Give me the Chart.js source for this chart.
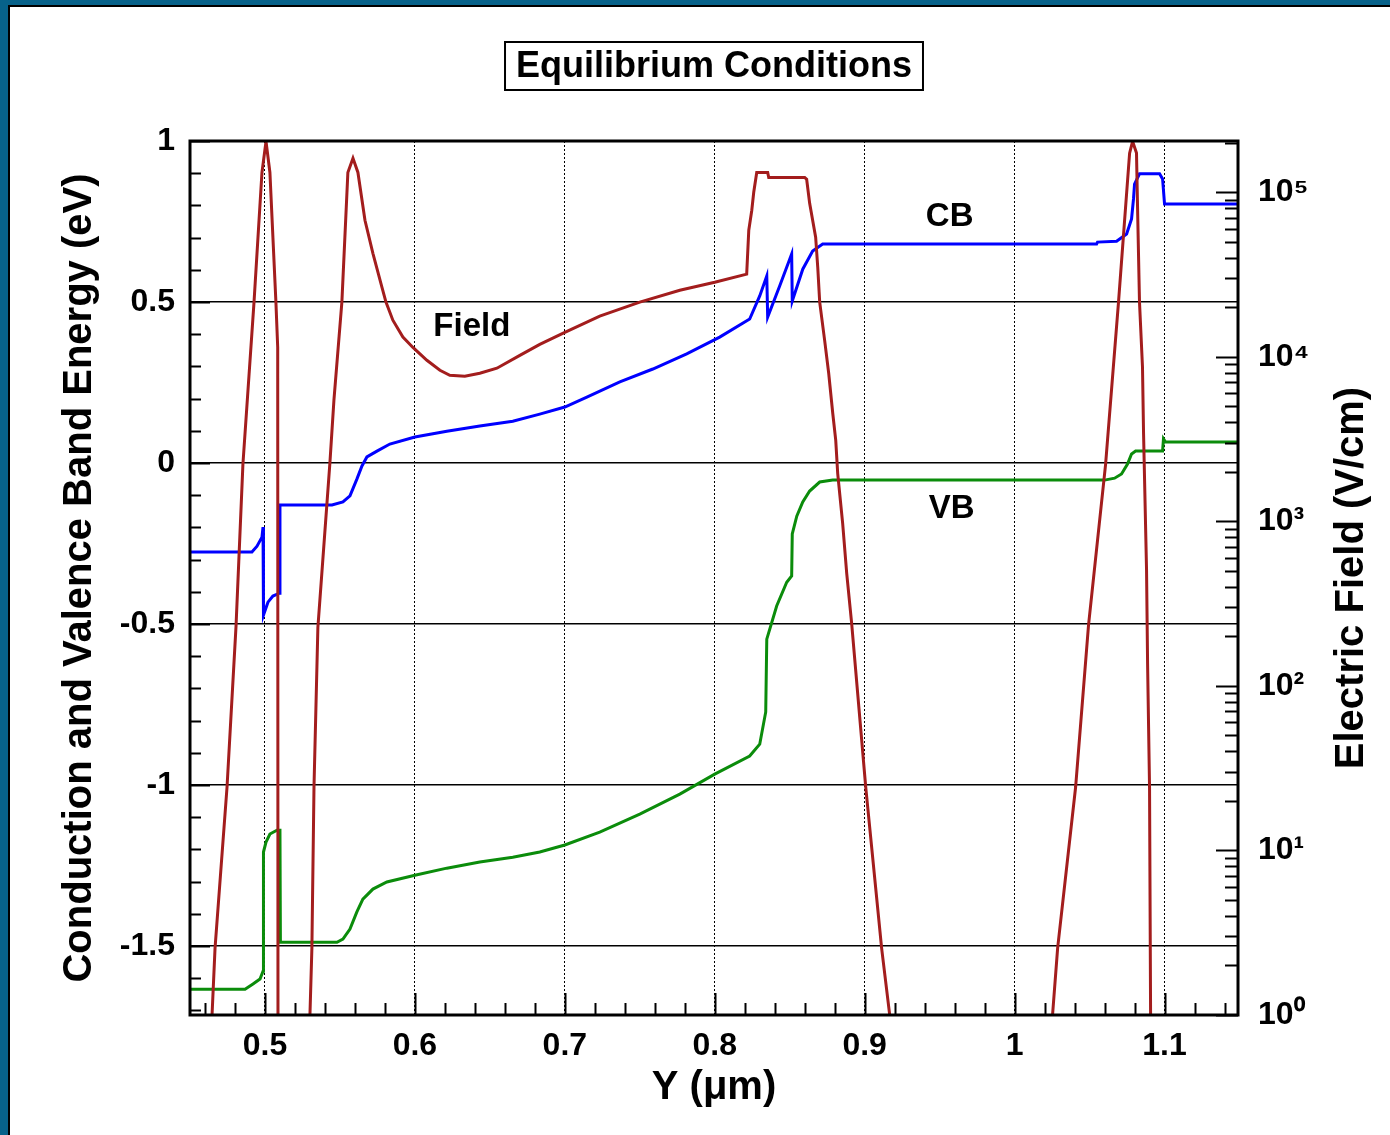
<!DOCTYPE html>
<html>
<head>
<meta charset="utf-8">
<title>Equilibrium Conditions</title>
<script src="https://cdn.jsdelivr.net/npm/chart.js@4.4.1/dist/chart.umd.min.js"></script>
<style>
  html, body { margin: 0; padding: 0; background: #07628a; overflow: hidden; }
  #panel { position: absolute; left: 8px; top: 5px; width: 1382px; height: 1130px; background: #fff;
           border-left: 2px solid #000; border-top: 2px solid #000; box-sizing: border-box; }
  #chart { position: absolute; left: 0; top: 0; }
</style>
</head>
<body>
<div id="panel"></div>
<canvas id="chart" width="1390" height="1135"></canvas>
<script>
// axis ticks
const xTicks = [0.5, 0.6, 0.7, 0.8, 0.9, 1.0, 1.1];
const xTickLabels = ['0.5', '0.6', '0.7', '0.8', '0.9', '1', '1.1'];
const leftTicks = [1, 0.5, 0, -0.5, -1, -1.5];
const leftTickLabels = ['1', '0.5', '0', '-0.5', '-1', '-1.5'];
const rightTicks = [1, 10, 100, 1000, 10000, 100000];
const rightTickLabels = ['10⁰', '10¹', '10²', '10³', '10⁴', '10⁵'];

// conduction band (eV)
const cbX = [0.45, 0.4913, 0.4947, 0.498, 0.4987, 0.499, 0.502, 0.5053, 0.5097, 0.51, 0.5447, 0.552,
  0.5567, 0.5613, 0.5647, 0.568, 0.5747, 0.5833, 0.6, 0.6213, 0.6433, 0.6653, 0.6833, 0.7, 0.7147,
  0.7367, 0.7587, 0.7813, 0.8033, 0.8233, 0.83, 0.8347, 0.8353, 0.8433, 0.8513, 0.8517, 0.8587, 0.8653,
  0.872, 1.0547, 1.0553, 1.068, 1.0747, 1.078, 1.0793, 1.08, 1.0833, 1.0967, 1.0987, 1.1, 1.149];
const cbE = [-0.276, -0.276, -0.258, -0.230, -0.199, -0.472, -0.432, -0.413, -0.404, -0.130, -0.130, -0.121,
  -0.102, -0.050, -0.009, 0.019, 0.037, 0.059, 0.081, 0.099, 0.115, 0.130, 0.152, 0.174, 0.205,
  0.252, 0.292, 0.339, 0.391, 0.447, 0.519, 0.581, 0.453, 0.550, 0.649, 0.503, 0.602, 0.658,
  0.680, 0.680, 0.686, 0.689, 0.711, 0.758, 0.820, 0.866, 0.898, 0.898, 0.882, 0.804, 0.804];

// valence band (eV)
const vbX = [0.45, 0.4867, 0.492, 0.4967, 0.4987, 0.499, 0.5007, 0.5033, 0.508, 0.51, 0.5103, 0.548,
  0.552, 0.5567, 0.5613, 0.5653, 0.572, 0.5813, 0.6, 0.6213, 0.6433, 0.6653, 0.6833, 0.7, 0.7233,
  0.75, 0.7767, 0.8, 0.8233, 0.83, 0.834, 0.8347, 0.8413, 0.848, 0.8513, 0.8517, 0.8547, 0.8587,
  0.8633, 0.87, 0.8787, 1.06, 1.0667, 1.0713, 1.0753, 1.078, 1.0807, 1.0987, 1.0993, 1.1007, 1.149];
const vbE = [-1.634, -1.634, -1.618, -1.602, -1.578, -1.208, -1.177, -1.152, -1.140, -1.140, -1.488, -1.488,
  -1.478, -1.447, -1.394, -1.354, -1.323, -1.301, -1.280, -1.258, -1.239, -1.224, -1.208, -1.186, -1.146,
  -1.090, -1.028, -0.966, -0.910, -0.873, -0.773, -0.547, -0.444, -0.370, -0.351, -0.220, -0.165, -0.121,
  -0.087, -0.059, -0.053, -0.053, -0.047, -0.034, -0.003, 0.028, 0.037, 0.037, 0.075, 0.065, 0.065];

// electric field (V/cm), null = gap
const fieldX = [0.4630, 0.4647, 0.4667, 0.4747, 0.4807, 0.4853, 0.4927, 0.4980, 0.5007, 0.5033, 0.5073,
  0.5085, 0.5087, 0.52,
  0.5297, 0.5300, 0.5313, 0.5327, 0.5353, 0.5433, 0.5460, 0.5513, 0.5553, 0.5587, 0.5620, 0.5667,
  0.5720, 0.5780, 0.5807, 0.5853, 0.5920, 0.5987, 0.6080, 0.6167, 0.6233, 0.6333, 0.6433, 0.6547,
  0.6700, 0.6833, 0.7000, 0.7233, 0.7500, 0.7767, 0.8000, 0.8213, 0.8227, 0.8247, 0.8260, 0.8280,
  0.8353, 0.8360, 0.8600, 0.8613, 0.8633, 0.8653, 0.8673, 0.8687, 0.8700, 0.8733, 0.8760, 0.8787,
  0.8807, 0.8820, 0.8853, 0.8880, 0.8913, 0.9007, 0.9113, 0.9167, 0.9180, 0.97,
  1.0240, 1.0253, 1.0287, 1.0407, 1.0493, 1.0607, 1.0693, 1.0767, 1.0787, 1.0813, 1.0820, 1.0833,
  1.0853, 1.0860, 1.0880, 1.0887, 1.0900, 1.0907, 1.0910];
const fieldE = [0.5, 1, 2.55, 24.3, 231, 2230, 21500, 132000, 204000, 132000, 21500,
  11400, 0.5, null,
  0.5, 1, 2.55, 24.3, 227, 2260, 5450, 21500, 132000, 161000, 132000, 67600,
  42600, 26500, 21500, 16700, 13200, 11400, 9530, 8290, 7730, 7620, 7950, 8530,
  10200, 11900, 14100, 17700, 21500, 25400, 28400, 31800, 58800, 77800, 100000, 132000,
  132000, 123000, 123000, 120000, 85700, 67600, 53300, 35000, 21500, 12600, 7950, 4540,
  3110, 1960, 975, 485, 241, 24.3, 2.55, 1, 0.5, null,
  0.5, 1, 2.55, 24.3, 234, 2230, 21500, 173000, 204000, 173000, 81100, 21500,
  8650, 3440, 505, 136, 24.3, 1, 0.5];

const FONT = '"Liberation Sans", Arial, Helvetica, sans-serif';

function pts(xs, ys) {
    return xs.map((x, i) => ({ x: x, y: ys[i] }));
}

// inward tick marks, frame, title and curve labels
const decorPlugin = {
    id: 'decor',
    afterDatasetsDraw(chart) {
        const ctx = chart.ctx;
        const a = chart.chartArea;
        const sx = chart.scales.x, sy = chart.scales.y, sr = chart.scales.y2;
        ctx.save();
        ctx.strokeStyle = '#000';
        ctx.lineWidth = 2;
        ctx.beginPath();
        // left axis ticks every 0.1
        for (let k = -17; k <= 10; k++) {
            const y = Math.round(sy.getPixelForValue(k / 10)) + 0.5;
            const len = (k % 5 === 0) ? 20 : 11;
            ctx.moveTo(a.left, y);
            ctx.lineTo(a.left + len, y);
        }
        // bottom axis ticks every 0.02
        for (let k = 23; k <= 57; k++) {
            const x = Math.round(sx.getPixelForValue(k / 50)) + 0.5;
            const len = (k % 5 === 0) ? 22 : 12;
            ctx.moveTo(x, a.bottom);
            ctx.lineTo(x, a.bottom - len);
        }
        // right log axis ticks
        for (let d = 0; d <= 5; d++) {
            for (let m = 1; m <= 9; m++) {
                const v = m * Math.pow(10, d);
                if (v > sr.max) continue;
                const y = Math.round(sr.getPixelForValue(v)) + 0.5;
                const len = (m === 1) ? 22 : 13;
                ctx.moveTo(a.right, y);
                ctx.lineTo(a.right - len, y);
            }
        }
        ctx.stroke();
        // frame
        ctx.lineWidth = 3;
        ctx.strokeRect(a.left, a.top, a.right - a.left, a.bottom - a.top);
        ctx.restore();
    },
    afterDraw(chart) {
        const ctx = chart.ctx;
        const a = chart.chartArea;
        const sx = chart.scales.x, sy = chart.scales.y;
        ctx.save();
        ctx.fillStyle = '#000';
        ctx.strokeStyle = '#000';

        // boxed title
        const title = 'Equilibrium Conditions';
        ctx.font = 'bold 36px ' + FONT;
        ctx.textAlign = 'center';
        ctx.textBaseline = 'middle';
        const cx = (a.left + a.right) / 2;
        const w = ctx.measureText(title).width + 22;
        ctx.fillText(title, cx, 67);
        ctx.lineWidth = 2;
        ctx.strokeRect(cx - w / 2, 42, w, 48);

        // curve labels
        ctx.font = 'bold 33px ' + FONT;
        ctx.fillText('Field', sx.getPixelForValue(0.638), sy.getPixelForValue(0.422));
        ctx.fillText('CB', sx.getPixelForValue(0.9567), sy.getPixelForValue(0.764));
        ctx.fillText('VB', sx.getPixelForValue(0.958), sy.getPixelForValue(-0.143));

        // right axis title, reading upwards
        ctx.font = 'bold 40px ' + FONT;
        ctx.translate(1352, (a.top + a.bottom) / 2);
        ctx.rotate(-Math.PI / 2);
        ctx.fillText('Electric Field (V/cm)', 0, 0);
        ctx.restore();
    }
};

const tickFont = { family: FONT, size: 32, weight: 'bold' };
const titleFont = { family: FONT, size: 40, weight: 'bold' };

new Chart(document.getElementById('chart'), {
    type: 'line',
    data: {
        datasets: [
            {
                label: 'Field',
                data: pts(fieldX, fieldE),
                yAxisID: 'y2',
                borderColor: '#a31d1d',
                borderWidth: 3,
                pointRadius: 0,
                tension: 0,
                spanGaps: false
            },
            {
                label: 'CB',
                data: pts(cbX, cbE),
                yAxisID: 'y',
                borderColor: '#0000ff',
                borderWidth: 3,
                pointRadius: 0,
                tension: 0
            },
            {
                label: 'VB',
                data: pts(vbX, vbE),
                yAxisID: 'y',
                borderColor: '#0b8c0b',
                borderWidth: 3,
                pointRadius: 0,
                tension: 0
            }
        ]
    },
    options: {
        responsive: false,
        animation: false,
        layout: { padding: { top: 141, left: 0, right: 0, bottom: 0 } },
        plugins: {
            legend: { display: false },
            tooltip: { enabled: false },
            title: { display: false }
        },
        scales: {
            x: {
                type: 'linear',
                position: 'bottom',
                min: 0.45,
                max: 1.149,
                afterBuildTicks: s => { s.ticks = xTicks.map(v => ({ value: v })); },
                afterFit: s => { s.height = 120; },
                ticks: {
                    autoSkip: false,
                    maxRotation: 0,
                    padding: 12,
                    color: '#000',
                    font: tickFont,
                    callback: (v, i) => xTickLabels[i]
                },
                grid: { color: '#000', lineWidth: 1, drawTicks: false, borderDash: [2, 2] },
                border: { display: false, dash: [2, 2] },
                title: {
                    display: true,
                    text: 'Y (μm)',
                    color: '#000',
                    font: titleFont,
                    padding: { top: 0, bottom: 23 }
                }
            },
            y: {
                type: 'linear',
                position: 'left',
                min: -1.714,
                max: 1.0,
                afterBuildTicks: s => { s.ticks = leftTicks.map(v => ({ value: v })); },
                afterFit: s => { s.width = 190; },
                ticks: {
                    autoSkip: false,
                    padding: 15,
                    color: '#000',
                    font: tickFont,
                    callback: (v, i) => leftTickLabels[i]
                },
                grid: { color: '#000', lineWidth: 1.5, drawTicks: false },
                border: { display: false },
                title: {
                    display: true,
                    text: 'Conduction and Valence Band Energy (eV)',
                    color: '#000',
                    font: titleFont,
                    padding: { top: 56, bottom: 0 }
                }
            },
            y2: {
                type: 'logarithmic',
                position: 'right',
                min: 1,
                max: 2.05e5,
                afterBuildTicks: s => { s.ticks = rightTicks.map(v => ({ value: v })); },
                afterFit: s => { s.width = 152; },
                ticks: {
                    autoSkip: false,
                    padding: 20,
                    color: '#000',
                    font: tickFont,
                    callback: (v, i) => rightTickLabels[i]
                },
                grid: { display: false, drawTicks: false },
                border: { display: false }
            }
        }
    },
    plugins: [decorPlugin]
});
</script>
</body>
</html>
